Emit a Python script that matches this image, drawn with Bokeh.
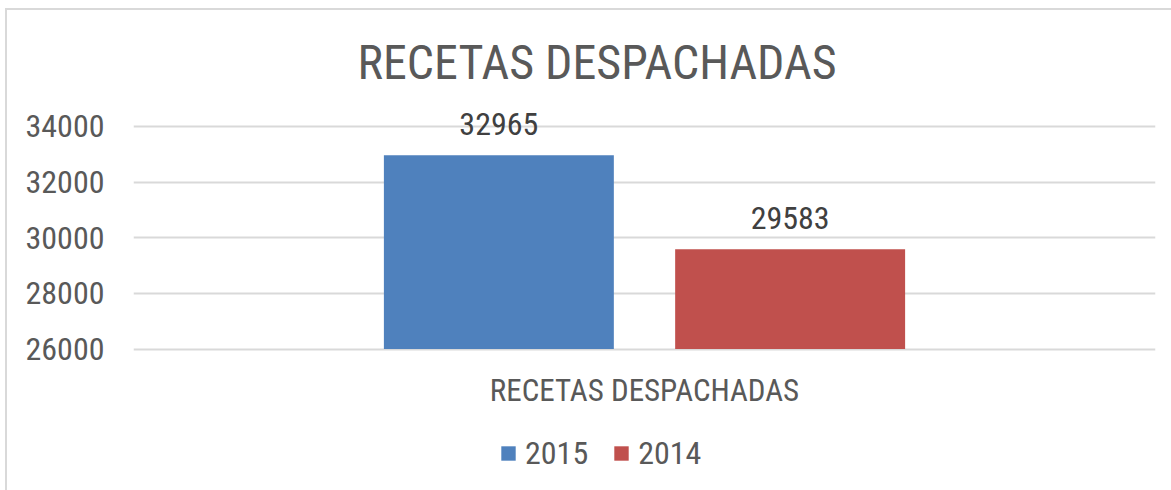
from bokeh.plotting import figure
from bokeh.models import (ColumnDataSource, FactorRange, Range1d, FixedTicker,
                          LabelSet, Legend, LegendItem)
from bokeh.transform import dodge
from bokeh.core.properties import value
from bokeh.embed import file_html
from bokeh.resources import INLINE

# ---- data ----
title_text = "RECETAS DESPACHADAS"
categories = ["RECETAS DESPACHADAS"]
series_names = ["2015", "2014"]
values_2015 = [32965]
values_2014 = [29583]
y_ticks = [26000, 28000, 30000, 32000, 34000]
colors = ["#4F81BD", "#C0504D"]

FONT_STR = "'Liberation Sans Narrow', 'Arial Narrow', 'Roboto Condensed', sans-serif"
FONT = value(FONT_STR)
TXT = "#595959"
GRID = "#d9d9d9"

# frame extends below the value axis so the category label and legend are drawn inside it
p = figure(x_range=FactorRange(*categories), y_range=Range1d(21100, 35000),
           frame_width=1022, frame_height=387, width=1164, height=480,
           min_border_left=126, min_border_right=16, min_border_top=88, min_border_bottom=5,
           output_backend="svg", toolbar_location=None)
p.styles = {"margin-left": "5px", "margin-top": "8px",
            "border-left": "2px solid #d9d9d9", "border-top": "2px solid #d9d9d9"}

src15 = ColumnDataSource(dict(cat=categories, val=values_2015, lbl=[str(v) for v in values_2015]))
src14 = ColumnDataSource(dict(cat=categories, val=values_2014, lbl=[str(v) for v in values_2014]))
src_cat = ColumnDataSource(dict(cat=categories, base=[y_ticks[0]] * len(categories)))

off = 0.1425
bw = 0.225
r15 = p.vbar(x=dodge('cat', -off, range=p.x_range), top='val', bottom=y_ticks[0], width=bw,
             source=src15, fill_color=colors[0], line_color=None)
r14 = p.vbar(x=dodge('cat', off, range=p.x_range), top='val', bottom=y_ticks[0], width=bw,
             source=src14, fill_color=colors[1], line_color=None)

for src, o in ((src15, -off), (src14, off)):
    p.add_layout(LabelSet(x=dodge('cat', o, range=p.x_range), y='val', text='lbl', source=src,
                          y_offset=20, text_align='center', text_baseline='alphabetic',
                          text_font_size='32px', text_color='#404040', text_font=FONT))

# category (x axis) label under the baseline
p.add_layout(LabelSet(x='cat', y='base', text='cat', source=src_cat,
                      y_offset=-52, text_align='center', text_baseline='alphabetic',
                      text_font_size='31px', text_color=TXT, text_font=FONT))

# title
p.title.text = title_text
p.title.align = "left"
p.title.offset = 224
p.title.standoff = 15
p.title.text_font_size = "48px"
p.title.text_font = FONT_STR
p.title.text_font_style = "normal"
p.title.text_color = TXT

# axes
p.yaxis.ticker = FixedTicker(ticks=y_ticks)
p.yaxis.axis_line_color = None
p.yaxis.major_tick_line_color = None
p.yaxis.minor_tick_line_color = None
p.yaxis.major_label_standoff = 23
p.yaxis.major_label_text_font_size = "32px"
p.yaxis.major_label_text_font = FONT_STR
p.yaxis.major_label_text_color = TXT

p.xaxis.visible = False

p.xgrid.visible = False
p.ygrid.grid_line_color = GRID
p.ygrid.grid_line_width = 2
p.outline_line_color = None

legend = Legend(items=[LegendItem(label=series_names[0], renderers=[r15]),
                       LegendItem(label=series_names[1], renderers=[r14])],
                orientation="horizontal", location=(366, 13),
                glyph_width=18, glyph_height=18, label_standoff=8, spacing=24,
                padding=0, margin=0, border_line_color=None, background_fill_alpha=0,
                label_text_font_size="32px", label_text_font=FONT_STR, label_text_color=TXT)
p.add_layout(legend, "center")

open("out.html", "w").write(file_html(p, INLINE))
